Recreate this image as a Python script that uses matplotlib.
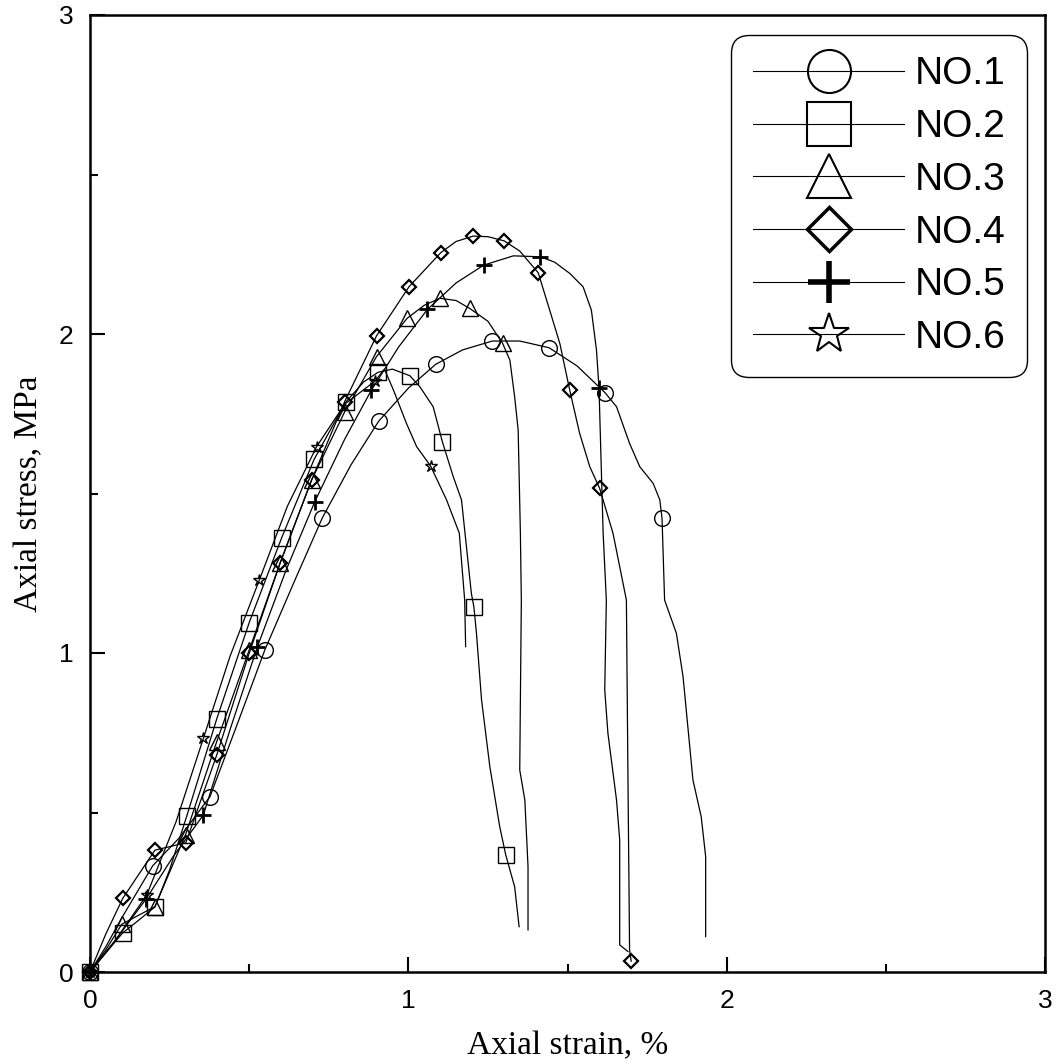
import matplotlib
matplotlib.use("Agg")
import matplotlib.pyplot as plt
from matplotlib.lines import Line2D
from matplotlib.ticker import MultipleLocator

# ---------------- data ----------------
labels = ["NO.1", "NO.2", "NO.3", "NO.4", "NO.5", "NO.6"]

# NO.1 curve
x1 = [0, 0.05, 0.1, 0.197, 0.28, 0.377, 0.46, 0.549, 0.64, 0.73, 0.82, 0.907, 1.0, 1.086,
      1.17, 1.264, 1.35, 1.442, 1.53, 1.618, 1.654, 1.695, 1.727, 1.769, 1.79, 1.797, 1.805,
      1.842, 1.863, 1.894, 1.92, 1.934, 1.934]
y1 = [0, 0.08, 0.17, 0.333, 0.42, 0.55, 0.77, 1.009, 1.22, 1.424, 1.59, 1.727, 1.83, 1.905,
      1.95, 1.978, 1.978, 1.957, 1.90, 1.816, 1.772, 1.657, 1.584, 1.532, 1.48, 1.422, 1.166,
      1.062, 0.926, 0.602, 0.487, 0.362, 0.111]
mx1 = [0, 0.197, 0.377, 0.549, 0.73, 0.907, 1.086, 1.264, 1.442, 1.618, 1.797]
my1 = [0, 0.333, 0.55, 1.009, 1.424, 1.727, 1.905, 1.978, 1.957, 1.816, 1.422]

# NO.2 curve
x2 = [0, 0.05, 0.103, 0.15, 0.204, 0.25, 0.304, 0.398, 0.50, 0.602, 0.704, 0.803, 0.86,
      0.905, 0.95, 1.005, 1.036, 1.078, 1.107, 1.141, 1.167, 1.198, 1.206, 1.214, 1.23,
      1.256, 1.287, 1.306, 1.334, 1.348]
y2 = [0, 0.06, 0.123, 0.16, 0.204, 0.32, 0.489, 0.793, 1.095, 1.361, 1.607, 1.786, 1.85,
      1.88, 1.89, 1.869, 1.835, 1.772, 1.662, 1.553, 1.48, 1.187, 1.144, 1.062, 0.853,
      0.644, 0.456, 0.367, 0.267, 0.142]
mx2 = [0, 0.103, 0.204, 0.304, 0.398, 0.50, 0.602, 0.704, 0.803, 0.905, 1.005, 1.107, 1.206, 1.306]
my2 = [0, 0.123, 0.204, 0.489, 0.793, 1.095, 1.361, 1.607, 1.786, 1.88, 1.869, 1.662, 1.144, 0.367]

# NO.3 curve
x3 = [0, 0.05, 0.1, 0.204, 0.3, 0.398, 0.50, 0.597, 0.696, 0.80, 0.90, 0.996, 1.05, 1.099,
      1.15, 1.193, 1.25, 1.296, 1.319, 1.334, 1.345, 1.352, 1.355, 1.352, 1.35, 1.366,
      1.376, 1.376]
y3 = [0, 0.07, 0.15, 0.205, 0.43, 0.722, 1.009, 1.282, 1.542, 1.756, 1.929, 2.049, 2.09,
      2.112, 2.105, 2.08, 2.04, 1.971, 1.918, 1.803, 1.699, 1.375, 1.166, 0.853, 0.633,
      0.539, 0.33, 0.132]
mx3 = [0, 0.1, 0.204, 0.3, 0.398, 0.50, 0.597, 0.696, 0.80, 0.90, 0.996, 1.099, 1.193, 1.296]
my3 = [0, 0.15, 0.205, 0.43, 0.722, 1.009, 1.282, 1.542, 1.756, 1.929, 2.049, 2.112, 2.08, 1.971]

# NO.4 curve
x4 = [0, 0.05, 0.103, 0.204, 0.301, 0.398, 0.50, 0.597, 0.696, 0.80, 0.90, 1.002, 1.102,
      1.15, 1.204, 1.25, 1.301, 1.35, 1.408, 1.444, 1.476, 1.507, 1.538, 1.57, 1.601,
      1.643, 1.685, 1.69, 1.695, 1.70]
y4 = [0, 0.12, 0.231, 0.382, 0.405, 0.68, 0.999, 1.281, 1.542, 1.788, 1.994, 2.148, 2.255,
      2.29, 2.307, 2.305, 2.292, 2.26, 2.192, 2.075, 1.97, 1.824, 1.689, 1.584, 1.516,
      1.375, 1.166, 0.6, 0.069, 0.034]
mx4 = [0, 0.103, 0.204, 0.301, 0.398, 0.50, 0.597, 0.696, 0.80, 0.90, 1.002, 1.102, 1.204,
       1.301, 1.408, 1.507, 1.601, 1.70]
my4 = [0, 0.231, 0.382, 0.405, 0.68, 0.999, 1.281, 1.542, 1.788, 1.994, 2.148, 2.255, 2.307,
       2.292, 2.192, 1.824, 1.516, 0.034]

# NO.5 curve
x5 = [0, 0.08, 0.177, 0.26, 0.356, 0.44, 0.526, 0.616, 0.706, 0.8, 0.884, 0.97, 1.06, 1.15,
      1.237, 1.33, 1.415, 1.46, 1.507, 1.549, 1.575, 1.591, 1.599, 1.606, 1.612, 1.622,
      1.617, 1.627, 1.654, 1.664, 1.664, 1.69]
y5 = [0, 0.1, 0.23, 0.36, 0.492, 0.76, 1.02, 1.26, 1.474, 1.67, 1.824, 1.96, 2.077, 2.16,
      2.216, 2.245, 2.242, 2.225, 2.19, 2.148, 2.075, 1.95, 1.83, 1.584, 1.375, 1.166,
      0.884, 0.748, 0.539, 0.414, 0.085, 0.064]
mx5 = [0, 0.177, 0.356, 0.526, 0.706, 0.884, 1.06, 1.237, 1.415, 1.599]
my5 = [0, 0.23, 0.492, 1.02, 1.474, 1.824, 2.077, 2.216, 2.242, 1.83]

# NO.6 curve
x6 = [0, 0.08, 0.178, 0.27, 0.356, 0.44, 0.532, 0.62, 0.712, 0.8, 0.895, 0.925, 0.955,
      0.994, 1.026, 1.07, 1.12, 1.16, 1.177, 1.18]
y6 = [0, 0.1, 0.241, 0.47, 0.732, 0.99, 1.229, 1.46, 1.647, 1.78, 1.852, 1.89, 1.82,
      1.72, 1.647, 1.586, 1.48, 1.376, 1.166, 1.02]
mx6 = [0, 0.178, 0.356, 0.532, 0.712, 0.895, 1.07]
my6 = [0, 0.241, 0.732, 1.229, 1.647, 1.852, 1.586]

xticks = [0, 1, 2, 3]
yticks = [0, 1, 2, 3]

# ---------------- styling ----------------
curves = [(x1, y1, mx1, my1), (x2, y2, mx2, my2), (x3, y3, mx3, my3),
          (x4, y4, mx4, my4), (x5, y5, mx5, my5), (x6, y6, mx6, my6)]
markers = ["o", "s", "^", "D", "+", "*"]
plot_ms = [11.3, 11.3, 11.3, 7.6, 11.5, 9.0]
plot_mew = [1.0, 1.0, 1.0, 1.6, 2.0, 1.0]
leg_ms = [31, 31, 31, 22, 30, 30]
leg_mew = [1.5, 1.5, 1.5, 2.5, 4.0, 1.5]

fig = plt.figure(figsize=(10.62, 10.60), dpi=100)
ax = fig.add_axes([90 / 1062, 88 / 1060, 955 / 1062, 957 / 1060])

for (cx, cy, mx, my), mk, ms, mew in zip(curves, markers, plot_ms, plot_mew):
    ax.plot(cx, cy, color="black", lw=0.9, zorder=2)
    ax.plot(mx, my, ls="none", marker=mk, ms=ms, mfc="none", mec="black",
            mew=mew, zorder=3, clip_on=False)

ax.set_xlim(0, 3)
ax.set_ylim(0, 3)
ax.set_xticks(xticks)
ax.set_yticks(yticks)
ax.set_xticklabels([str(t) for t in xticks])
ax.set_yticklabels([str(t) for t in yticks])
ax.xaxis.set_minor_locator(MultipleLocator(0.5))
ax.yaxis.set_minor_locator(MultipleLocator(0.5))
ax.tick_params(which="major", direction="in", length=11, width=1.5, pad=12,
               top=False, right=False, labelsize=19)
ax.tick_params(which="minor", direction="in", length=5.5, width=1.5,
               top=False, right=False)
for lab in ax.get_xticklabels() + ax.get_yticklabels():
    lab.set_family("Liberation Sans")
for sp in ax.spines.values():
    sp.set_linewidth(1.8)

ax.set_xlabel("Axial strain, %", fontsize=24, family="Liberation Serif", labelpad=13)
ax.set_ylabel("Axial stress, MPa", fontsize=24, family="Liberation Serif", labelpad=10)

handles = [Line2D([], [], color="black", lw=0.8, marker=mk, ms=ms, mfc="none",
                  mec="black", mew=mew)
           for mk, ms, mew in zip(markers, leg_ms, leg_mew)]
leg = ax.legend(handles, labels, loc="upper right", bbox_to_anchor=(0.981, 0.979),
                borderaxespad=0, prop={"family": "Liberation Sans", "size": 28},
                handlelength=3.9, handletextpad=0.26, labelspacing=0.43,
                borderpad=0.55, fancybox=True, framealpha=1, edgecolor="black")
leg.get_frame().set_linewidth(1.0)
leg.get_frame().set_boxstyle("round", pad=0, rounding_size=0.45)

fig.savefig("out.png", dpi=100)
